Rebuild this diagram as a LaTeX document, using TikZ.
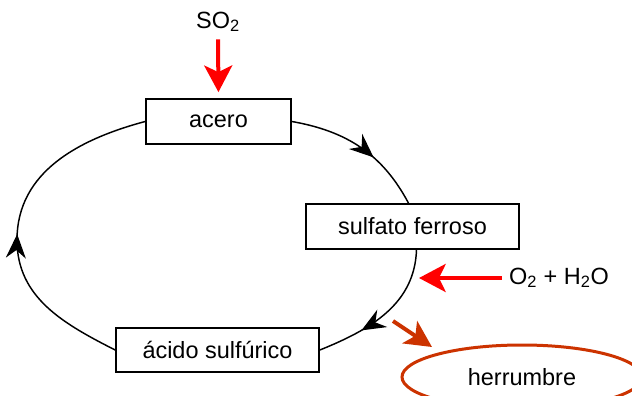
\documentclass[tikz,border=0pt]{standalone}
\usepackage{fontspec}
\setmainfont{Liberation Sans}
\usetikzlibrary{arrows.meta,decorations.markings,shapes.geometric}

\definecolor{inputred}{RGB}{255,0,0}
\definecolor{rust}{RGB}{204,51,0}

\begin{document}
\begin{tikzpicture}[x=0.75pt,y=-0.75pt,
  font=\fontsize{17.6}{20}\selectfont,
  stage/.style={draw, line width=1.3pt, minimum height=33.75pt, inner sep=0pt},
  looptip/.tip={Stealth[length=18pt,width=15pt,inset=6pt]},
  loopline/.style={line width=1.1pt, postaction={decorate},
    decoration={markings, mark=at position #1 with {\arrow{looptip}}}},
  feed/.style={line width=3pt, -{Stealth[length=20pt,width=21pt,inset=5pt]}},
]
\useasboundingbox (0,0) rectangle (632,396);

% stages of the cycle
\node[stage, minimum width=108.75pt] (acero)   at (218.5,121.5) {acero};
\node[stage, minimum width=159.75pt] (sulfato) at (412.5,226.5) {sulfato ferroso};
\node[stage, minimum width=152.25pt, minimum height=33pt] (acido) at (217.5,350) {ácido sulfúrico};
\coordinate (west) at (17,240);

% the cycle
\draw[loopline=0.61] (acero.east) to[out=-10,in=118] ([xshift=-3pt]sulfato.north);
\draw[loopline=0.69] ([xshift=3pt]sulfato.south) to[out=-92,in=22] (acido.east);
\draw[loopline=0.47] (acido.west) to[out=153,in=-90] (west) to[out=90,in=195] (acero.west);

% inputs
\node (so2) at (218,22) {SO\textsubscript{2}};
\draw[feed, inputred, shorten <=2pt, shorten >=4.5pt] (so2.south) -- (acero.north);

\node (o2) at (559,278) {O\textsubscript{2} + H\textsubscript{2}O};
\coordinate (o2tip) at (419,278);
\draw[feed, inputred, shorten <=2pt] (o2.west) -- (o2tip);

% product
\node[ellipse, draw=rust, line width=2.25pt, minimum width=180pt, minimum height=48pt, inner sep=0pt] (herr) at (522,377) {herrumbre};
\coordinate (rstart) at (393,321);
\coordinate (rtip) at (432,347);
\draw[feed, rust, -{Stealth[length=20pt,width=20pt,inset=5pt]}] (rstart) -- (rtip);
\end{tikzpicture}
\end{document}
